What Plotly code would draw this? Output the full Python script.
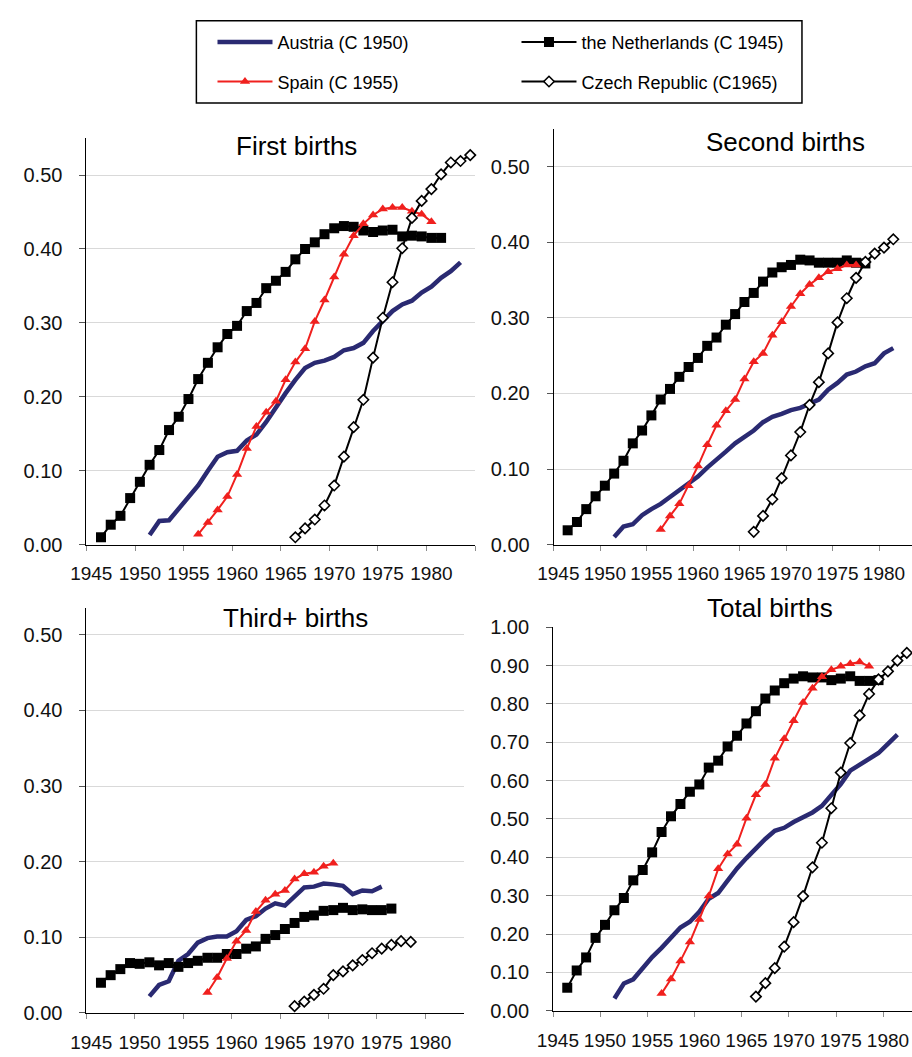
import plotly.graph_objects as go

W, H = 912, 1057

# ---------------- data ----------------
first_nl_start = 1946
first_nl = [0.010, 0.027, 0.039, 0.063, 0.085, 0.108, 0.128, 0.155, 0.173, 0.197,
            0.224, 0.246, 0.267, 0.285, 0.296, 0.316, 0.327, 0.347, 0.357, 0.369,
            0.386, 0.400, 0.409, 0.420, 0.428, 0.431, 0.430, 0.425, 0.423, 0.425,
            0.426, 0.417, 0.418, 0.417, 0.415, 0.415]
first_at_start = 1951
first_at = [0.013, 0.032, 0.033, 0.049, 0.064, 0.080, 0.100, 0.119, 0.125, 0.127,
            0.141, 0.149, 0.166, 0.186, 0.205, 0.223, 0.239, 0.246, 0.249, 0.254,
            0.263, 0.266, 0.273, 0.289, 0.303, 0.316, 0.325, 0.330, 0.341, 0.349,
            0.361, 0.370, 0.382]
first_es_start = 1956
first_es = [0.014, 0.030, 0.047, 0.065, 0.095, 0.130, 0.160, 0.179, 0.194, 0.223,
            0.247, 0.265, 0.302, 0.331, 0.362, 0.393, 0.418, 0.434, 0.446, 0.454,
            0.456, 0.456, 0.451, 0.447, 0.437]
first_cz_start = 1966
first_cz = [0.010, 0.022, 0.034, 0.053, 0.080, 0.119, 0.159, 0.196, 0.253, 0.307,
            0.355, 0.401, 0.442, 0.465, 0.481, 0.501, 0.517, 0.519, 0.527]

second_nl_start = 1946
second_nl = [0.019, 0.030, 0.047, 0.064, 0.078, 0.094, 0.111, 0.134, 0.151, 0.171,
             0.192, 0.206, 0.222, 0.235, 0.247, 0.263, 0.274, 0.291, 0.305, 0.321,
             0.333, 0.348, 0.360, 0.367, 0.370, 0.377, 0.376, 0.373, 0.373, 0.373,
             0.376, 0.373, 0.372]
second_at_start = 1951
second_at = [0.010, 0.024, 0.027, 0.039, 0.047, 0.054, 0.063, 0.072, 0.080, 0.090,
             0.102, 0.112, 0.123, 0.134, 0.143, 0.151, 0.162, 0.169, 0.173, 0.178,
             0.181, 0.187, 0.192, 0.205, 0.214, 0.225, 0.229, 0.236, 0.240, 0.253,
             0.260]
second_es_start = 1956
second_es = [0.020, 0.038, 0.054, 0.078, 0.104, 0.132, 0.158, 0.177, 0.192, 0.219,
             0.242, 0.253, 0.277, 0.295, 0.315, 0.332, 0.344, 0.353, 0.361, 0.365,
             0.370, 0.370]
second_cz_start = 1966
second_cz = [0.017, 0.038, 0.060, 0.088, 0.118, 0.149, 0.185, 0.215, 0.253, 0.294,
             0.326, 0.353, 0.374, 0.385, 0.393, 0.404]

third_nl_start = 1946
third_nl = [0.040, 0.050, 0.058, 0.066, 0.065, 0.067, 0.063, 0.066, 0.061, 0.066,
            0.069, 0.073, 0.073, 0.078, 0.078, 0.085, 0.088, 0.098, 0.103, 0.111,
            0.119, 0.127, 0.129, 0.135, 0.136, 0.139, 0.136, 0.137, 0.136, 0.136,
            0.138]
third_at_start = 1951
third_at = [0.022, 0.037, 0.042, 0.069, 0.078, 0.093, 0.099, 0.101, 0.101, 0.108,
            0.123, 0.128, 0.138, 0.145, 0.142, 0.155, 0.166, 0.167, 0.171, 0.170,
            0.168, 0.157, 0.162, 0.161, 0.167]
third_es_start = 1957
third_es = [0.027, 0.047, 0.072, 0.095, 0.109, 0.134, 0.149, 0.157, 0.162, 0.177,
            0.184, 0.186, 0.194, 0.198]
third_cz_start = 1966
third_cz = [0.009, 0.015, 0.024, 0.032, 0.050, 0.055, 0.063, 0.070, 0.079, 0.085,
            0.090, 0.095, 0.094]

total_nl_start = 1946
total_nl = [0.060, 0.105, 0.139, 0.190, 0.224, 0.262, 0.294, 0.340, 0.367, 0.413,
            0.466, 0.507, 0.539, 0.571, 0.590, 0.634, 0.652, 0.689, 0.717, 0.749,
            0.781, 0.814, 0.835, 0.854, 0.866, 0.872, 0.869, 0.869, 0.862, 0.866,
            0.872, 0.860, 0.860, 0.862]
total_at_start = 1951
total_at = [0.032, 0.071, 0.082, 0.113, 0.140, 0.164, 0.191, 0.217, 0.232, 0.258,
            0.292, 0.307, 0.339, 0.371, 0.398, 0.424, 0.448, 0.469, 0.477, 0.492,
            0.505, 0.517, 0.534, 0.564, 0.591, 0.626, 0.641, 0.656, 0.672, 0.696,
            0.720]
total_es_start = 1956
total_es = [0.045, 0.083, 0.130, 0.179, 0.238, 0.299, 0.370, 0.409, 0.434, 0.502,
            0.563, 0.590, 0.658, 0.709, 0.756, 0.804, 0.841, 0.871, 0.889, 0.898,
            0.905, 0.909, 0.898]
total_cz_start = 1966
total_cz = [0.037, 0.072, 0.111, 0.167, 0.231, 0.299, 0.374, 0.438, 0.528, 0.621,
            0.698, 0.770, 0.826, 0.864, 0.885, 0.913, 0.933]

panel_titles = ["First births", "Second births", "Third+ births", "Total births"]
series_names = ["Austria (C 1950)", "the Netherlands (C 1945)",
                "Spain (C 1955)", "Czech Republic (C1965)"]
year_ticks = [1945, 1950, 1955, 1960, 1965, 1970, 1975, 1980]

panels = [
    [(first_at_start, first_at), (first_nl_start, first_nl),
     (first_es_start, first_es), (first_cz_start, first_cz)],
    [(second_at_start, second_at), (second_nl_start, second_nl),
     (second_es_start, second_es), (second_cz_start, second_cz)],
    [(third_at_start, third_at), (third_nl_start, third_nl),
     (third_es_start, third_es), (third_cz_start, third_cz)],
    [(total_at_start, total_at), (total_nl_start, total_nl),
     (total_es_start, total_es), (total_cz_start, total_cz)],
]

FONT = "Liberation Sans, Arial, sans-serif"
NAVY = "#2a2a72"
RED = "#f0201e"
styles = [
    dict(mode="lines", line=dict(color=NAVY, width=4.5)),
    dict(mode="lines+markers", line=dict(color="black", width=2),
         marker=dict(symbol="square", size=10, color="black")),
    dict(mode="lines+markers", line=dict(color=RED, width=2),
         marker=dict(symbol="triangle-up", size=9, color=RED)),
    dict(mode="lines+markers", line=dict(color="black", width=2),
         marker=dict(symbol="diamond", size=8, color="white",
                     line=dict(color="black", width=1.6))),
]
legend_of = ["legend", "legend", "legend2", "legend2"]

geo = [
    dict(x0=71.7, x1=467.3, yb=545.0, yt=129.8, xmax=1984.5, ymax=0.55, tx=285, ty=138),
    dict(x0=547.3, x1=912.0, yb=545.0, yt=120.4, xmax=1983.01, ymax=0.55, tx=783.5, ty=134),
    dict(x0=71.7, x1=456.0, yb=1023.3, yt=609.3, xmax=1983.5, ymax=0.5358, tx=284.5, ty=620),
    dict(x0=546.7, x1=912.0, yb=1021.0, yt=629.3, xmax=1982.55, ymax=1.0, tx=767, ty=610),
]

fig = go.Figure()

for p, (series, g) in enumerate(zip(panels, geo)):
    xa = "x" if p == 0 else f"x{p+1}"
    ya = "y" if p == 0 else f"y{p+1}"
    for s, (start, vals) in enumerate(series):
        years = list(range(start, start + len(vals)))
        fig.add_trace(go.Scatter(
            x=years, y=vals, name=series_names[s], xaxis=xa, yaxis=ya,
            showlegend=(p == 0), legend=legend_of[s], hoverinfo="skip",
            cliponaxis=False, **styles[s]))

    xkey = "xaxis" if p == 0 else f"xaxis{p+1}"
    ykey = "yaxis" if p == 0 else f"yaxis{p+1}"
    minor_vals = [1944.5 + 5 * k for k in range(9)]
    fig.layout[xkey] = dict(
        domain=[g["x0"] / W, g["x1"] / W], range=[1944.5, g["xmax"]],
        anchor=ya, tickmode="array", tickvals=year_ticks,
        ticktext=[str(t) for t in year_ticks], ticks="",
        tickfont=dict(family=FONT, size=19, color="#111111"),
        showgrid=False, zeroline=False, showline=True, linecolor="black",
        linewidth=1, ticklabelstandoff=12,
        minor=dict(tickmode="array", tickvals=minor_vals, ticks="outside",
                   ticklen=5, tickcolor="#8c8c8c", tickwidth=1, showgrid=False),
    )
    if p == 3:
        yt = [round(0.1 * k, 2) for k in range(11)]
    else:
        yt = [round(0.1 * k, 2) for k in range(6)]
    fig.layout[ykey] = dict(
        domain=[1 - g["yb"] / H, 1 - g["yt"] / H], range=[0, g["ymax"]],
        anchor=xa, tickmode="array", tickvals=yt,
        ticktext=[f"{v:.2f}" for v in yt],
        ticks="outside", ticklen=6, tickcolor="#555555",
        tickfont=dict(family=FONT, size=20, color="#111111"),
        showgrid=True, gridcolor="#d9d9d9", gridwidth=1,
        zeroline=False, showline=True, linecolor="black", linewidth=1,
        ticklabelstandoff=13,
    )
    fig.add_annotation(
        text=panel_titles[p], x=g["tx"] / W, y=1 - g["ty"] / H,
        xref="paper", yref="paper", xanchor="center", yanchor="middle",
        showarrow=False, font=dict(family=FONT, size=26, color="black"))

# legend box
fig.add_shape(type="rect", xref="paper", yref="paper",
              x0=183.6 / W, x1=800 / W, y0=1 - 94 / H, y1=1 - 10 / H,
              line=dict(color="black", width=1.5), fillcolor="rgba(0,0,0,0)")

leg_common = dict(orientation="h", xanchor="left", yanchor="middle",
                  bgcolor="rgba(0,0,0,0)", borderwidth=0,
                  font=dict(family=FONT, size=18, color="black"),
                  itemwidth=55, entrywidthmode="pixels", entrywidth=234,
                  itemclick=False, itemdoubleclick=False)
fig.update_layout(
    legend=dict(x=200 / W, y=1 - 32.0 / H, **leg_common),
    legend2=dict(x=200 / W, y=1 - 72.3 / H, **leg_common),
)

fig.update_layout(
    width=W, height=H, margin=dict(l=0, r=0, t=0, b=0),
    paper_bgcolor="white", plot_bgcolor="white",
    font=dict(family=FONT, color="black"),
)

fig.write_html("out.html", config={"displayModeBar": False},
               post_script="document.body.style.margin='0';"
                           "document.body.style.padding='0';")
